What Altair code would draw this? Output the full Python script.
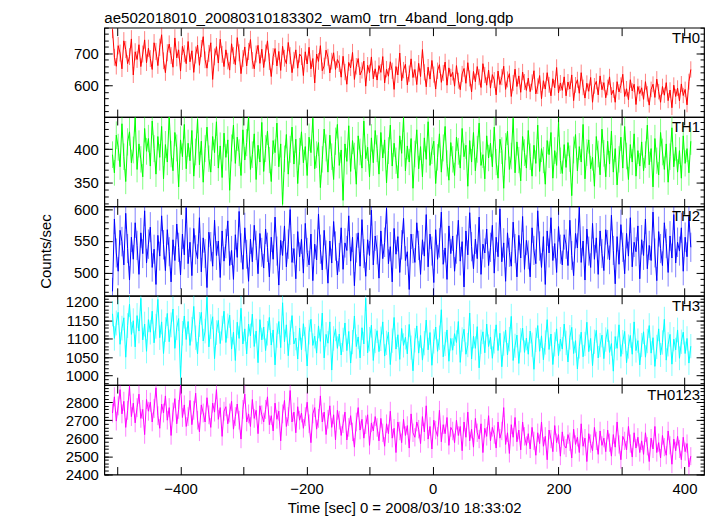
import altair as alt
import pandas as pd
import numpy as np

FONT = "Liberation Sans"

# time bins (sec, relative to 2008/03/10 18:33:02)
t_start = -508
t_step = 3

th0 = [775, 688, 660, 724, 701, 652, 739, 712, 668, 690, 745, 633, 705, 681, 727, 659, 698, 742, 671, 716,
       684, 650, 733, 706, 662, 719, 758, 677, 640, 702, 729, 693, 657, 748, 686, 711, 645, 722, 699, 668,
       737, 674, 708, 641, 695, 726, 663, 715, 752, 680, 654, 700, 733, 619, 689, 721, 670, 744, 697, 659,
       711, 676, 648, 730, 693, 665, 749, 702, 637, 684, 720, 661, 706, 743, 678, 652, 698, 725, 669, 713,
       656, 701, 739, 674, 628, 690, 715, 661, 706, 647, 722, 685, 668, 734, 693, 640, 679, 711, 654, 698,
       690, 631, 705, 667, 719, 652, 684, 608, 698, 675, 724, 646, 661, 710, 688, 639, 676, 702, 650, 681,
       668, 626, 691, 642, 604, 672, 655, 703, 619, 660, 684, 633, 647, 676, 598, 663, 640, 689, 621, 652,
       617, 662, 641, 690, 608, 651, 629, 674, 646, 588, 659, 633, 701, 615, 648, 666, 602, 637, 683, 625,
       650, 603, 669, 628, 712, 641, 596, 657, 620, 678, 634, 589, 646, 665, 610, 639, 673, 601, 655, 627,
       641, 598, 662, 615, 587, 636, 653, 607, 671, 622, 580, 644, 612, 659, 626, 594, 668, 633, 601, 648,
       592, 634, 617, 571, 645, 603, 626, 660, 588, 619, 637, 566, 608, 651, 597, 630, 579, 642, 611, 585,
       623, 581, 610, 646, 574, 598, 631, 559, 615, 589, 640, 602, 568, 621, 593, 656, 577, 608, 585, 627,
       568, 611, 589, 633, 553, 602, 618, 576, 640, 594, 561, 607, 582, 625, 548, 599, 613, 571, 630, 587,
       609, 562, 594, 627, 571, 586, 548, 612, 580, 601, 635, 566, 590, 556, 618, 583, 604, 541, 597, 575,
       593, 557, 612, 574, 539, 588, 604, 563, 620, 581, 548, 597, 570, 609, 553, 586, 531, 601, 566, 592,
       552, 605, 569, 588, 540, 612, 650]

th1 = [392, 365, 421, 403, 374, 438, 389, 352, 411, 426, 380, 399, 447, 370, 408, 385, 359, 431, 397, 416,
       375, 442, 401, 363, 419, 388, 434, 356, 407, 381, 450, 393, 368, 425, 402, 344, 414, 389, 437, 371,
       409, 383, 428, 360, 396, 445, 377, 412, 351, 401, 433, 386, 366, 419, 395, 441, 372, 405, 358, 424,
       388, 414, 339, 402, 436, 379, 418, 395, 361, 429, 384, 410, 449, 370, 392, 423, 355, 406, 381, 440,
       367, 401, 427, 384, 352, 413, 395, 439, 374, 408, 318, 386, 422, 363, 400, 433, 378, 415, 349, 397,
       426, 380, 404, 361, 418, 395, 446, 371, 392, 410, 343, 385, 430, 402, 366, 421, 389, 355, 412, 437,
       376, 399, 324, 408, 382, 435, 367, 413, 390, 348, 420, 396, 372, 442, 386, 403, 359, 417, 380, 428,
       401, 363, 425, 387, 414, 350, 398, 436, 375, 409, 383, 357, 420, 394, 447, 368, 405, 381, 416, 342,
       393, 429, 371, 404, 359, 417, 385, 441, 376, 398, 412, 349, 388, 423, 366, 402, 434, 379, 354, 410,
       385, 361, 418, 397, 372, 431, 389, 406, 345, 413, 381, 425, 368, 400, 439, 376, 392, 356, 420, 387,
       409, 374, 433, 381, 357, 415, 398, 342, 404, 427, 370, 390, 446, 365, 411, 384, 353, 419, 395, 372,
       428, 389, 360, 406, 379, 436, 367, 401, 384, 348, 413, 392, 425, 357, 398, 376, 440, 383, 364, 407,
       373, 410, 386, 331, 399, 422, 368, 404, 381, 437, 356, 395, 414, 371, 388, 345, 419, 393, 362, 430,
       394, 359, 412, 378, 427, 366, 401, 347, 385, 418, 372, 434, 390, 355, 407, 381, 423, 360, 398, 375,
       411, 368, 392, 436, 377, 401, 344, 416, 383, 362, 425, 396, 370, 408, 351, 389, 432, 374, 403, 366,
       398, 357, 420, 379, 401, 365, 412]

th2 = [470, 585, 531, 502, 567, 549, 512, 594, 538, 488, 556, 521, 579, 543, 497, 563, 530, 598, 515, 545,
       572, 508, 537, 481, 559, 526, 590, 544, 503, 568, 533, 485, 552, 519, 577, 540, 496, 561, 528, 603,
       514, 548, 495, 570, 536, 522, 587, 501, 555, 530, 476, 564, 541, 510, 583, 527, 550, 492, 566, 518,
       546, 582, 511, 535, 489, 560, 524, 597, 539, 505, 571, 529, 486, 553, 517, 575, 543, 498, 562, 532,
       507, 569, 540, 493, 556, 521, 588, 534, 480, 551, 527, 574, 509, 545, 600, 516, 538, 490, 565, 525,
       553, 499, 578, 532, 512, 561, 487, 545, 520, 593, 537, 504, 567, 528, 483, 550, 515, 581, 542, 496,
       524, 571, 505, 547, 535, 590, 518, 556, 479, 539, 563, 510, 584, 530, 494, 552, 527, 599, 512, 558,
       536, 491, 566, 522, 548, 602, 514, 541, 485, 570, 529, 557, 500, 544, 586, 519, 533, 473, 561, 538,
       516, 579, 543, 497, 552, 526, 592, 509, 561, 534, 484, 568, 521, 547, 596, 513, 539, 489, 574, 530,
       558, 502, 537, 583, 518, 549, 477, 566, 528, 595, 541, 506, 553, 522, 588, 497, 545, 531, 569, 511,
       540, 575, 499, 556, 525, 601, 517, 547, 486, 563, 532, 510, 580, 538, 493, 559, 523, 589, 505, 551,
       528, 493, 571, 535, 514, 598, 542, 508, 557, 481, 566, 531, 587, 519, 546, 500, 573, 537, 512, 560,
       545, 511, 583, 527, 495, 562, 539, 604, 516, 550, 488, 569, 534, 508, 578, 521, 555, 497, 566, 530,
       503, 568, 544, 520, 591, 535, 482, 557, 513, 576, 540, 498, 562, 526, 587, 509, 548, 533, 574, 490,
       552, 527, 585, 506, 543, 519, 596, 531, 487, 565, 538, 511, 579, 546, 500, 558, 523, 592, 515, 548,
       534, 571, 502, 556, 525, 589, 540]

th3 = [1168, 1101, 1143, 1172, 1085, 1129, 1157, 1050, 1136, 1194, 1112, 1149, 1078, 1163, 1121, 1210, 1097, 1140, 1066, 1152,
       1118, 1175, 1089, 1134, 1207, 1103, 1146, 1060, 1125, 1169, 1092, 1138, 1181, 1074, 1130, 1155, 995, 1115, 1162, 1098,
       1147, 1082, 1126, 1188, 1103, 1059, 1139, 1172, 1094, 1121, 1213, 1078, 1133, 1160, 1046, 1117, 1150, 1087, 1129, 1175,
       1090, 1135, 1164, 1072, 1118, 1041, 1145, 1101, 1183, 1086, 1127, 1059, 1140, 1108, 1167, 1079, 1121, 1035, 1152, 1097,
       1132, 1068, 1115, 1158, 1083, 1124, 1029, 1109, 1147, 1076, 1198, 1092, 1138, 1054, 1117, 1163, 1086, 1102, 1045, 1129,
       1070, 1141, 1099, 1026, 1118, 1153, 1082, 1107, 1061, 1135, 1093, 1170, 1048, 1112, 1088, 1146, 1015, 1101, 1127, 1074,
       1113, 1056, 1097, 1143, 1068, 1120, 1034, 1091, 1162, 1079, 1105, 1048, 1130, 1086, 1210, 1062, 1099, 1137, 1041, 1094,
       1122, 1065, 1100, 1146, 1053, 1089, 1118, 1030, 1095, 1158, 1072, 1111, 1044, 1128, 1082, 1104, 1059, 1139, 1076, 1013,
       1096, 1135, 1061, 1109, 1042, 1088, 1151, 1070, 1117, 1028, 1093, 1132, 1066, 1103, 1179, 1051, 1086, 1124, 1039, 1101,
       1069, 1114, 1090, 1147, 1036, 1098, 1126, 1058, 1083, 1170, 1045, 1107, 1074, 1133, 1021, 1092, 1119, 1062, 1140, 1079,
       1105, 1047, 1093, 1138, 1068, 1115, 1024, 1087, 1124, 1056, 1099, 1161, 1041, 1081, 1110, 1033, 1096, 1129, 1063, 1102,
       1058, 1121, 1084, 1017, 1097, 1136, 1066, 1108, 1043, 1090, 1152, 1071, 1113, 1030, 1085, 1127, 1054, 1099, 1072, 1140,
       1089, 1037, 1104, 1131, 1060, 1095, 1018, 1079, 1118, 1051, 1086, 1145, 1065, 1101, 1027, 1092, 1123, 1048, 1083, 1110,
       1046, 1098, 1125, 1063, 1087, 1012, 1106, 1074, 1138, 1052, 1091, 1120, 1035, 1079, 1109, 1058, 1146, 1068, 1095, 1029,
       1083, 1119, 1050, 1094, 1136, 1061, 1103, 1025, 1078, 1127, 1056, 1090, 1153, 1042, 1085, 1112, 1031, 1099, 1070, 1124,
       1047, 1092, 1118, 1060, 1101, 1034, 1080]

th0123 = [2740, 2830, 2695, 2780, 2870, 2735, 2805, 2660, 2755, 2890, 2720, 2795, 2685, 2770, 2845, 2710, 2760, 2620, 2815, 2750,
          2800, 2690, 2765, 2880, 2725, 2655, 2790, 2740, 2835, 2700, 2770, 2615, 2745, 2820, 2680, 2760, 2895, 2715, 2785, 2665,
          2720, 2810, 2675, 2755, 2850, 2700, 2635, 2785, 2740, 2690, 2825, 2730, 2660, 2795, 2745, 2870, 2705, 2770, 2610, 2750,
          2775, 2680, 2740, 2805, 2650, 2720, 2790, 2700, 2595, 2760, 2845, 2690, 2735, 2665, 2815, 2710, 2755, 2625, 2780, 2730,
          2690, 2760, 2830, 2675, 2725, 2640, 2795, 2705, 2750, 2585, 2735, 2810, 2665, 2720, 2865, 2690, 2745, 2630, 2775, 2700,
          2740, 2655, 2720, 2800, 2680, 2575, 2735, 2770, 2650, 2710, 2835, 2690, 2745, 2620, 2705, 2780, 2660, 2730, 2590, 2755,
          2700, 2615, 2680, 2745, 2590, 2660, 2725, 2635, 2550, 2690, 2770, 2645, 2705, 2600, 2675, 2730, 2560, 2685, 2640, 2720,
          2660, 2585, 2710, 2630, 2555, 2680, 2625, 2750, 2600, 2655, 2520, 2690, 2640, 2575, 2705, 2615, 2670, 2545, 2735, 2630,
          2605, 2690, 2650, 2570, 2720, 2635, 2780, 2595, 2665, 2540, 2700, 2645, 2610, 2755, 2580, 2675, 2625, 2715, 2560, 2660,
          2640, 2575, 2700, 2615, 2665, 2530, 2690, 2605, 2745, 2585, 2650, 2550, 2710, 2630, 2595, 2680, 2520, 2655, 2610, 2725,
          2585, 2660, 2620, 2545, 2690, 2600, 2640, 2770, 2565, 2630, 2515, 2675, 2605, 2715, 2580, 2645, 2535, 2690, 2610, 2560,
          2625, 2540, 2660, 2585, 2505, 2630, 2570, 2690, 2555, 2610, 2480, 2645, 2595, 2525, 2670, 2575, 2620, 2500, 2635, 2560,
          2545, 2620, 2580, 2490, 2650, 2565, 2605, 2520, 2680, 2555, 2600, 2470, 2625, 2570, 2530, 2660, 2585, 2510, 2640, 2560,
          2600, 2525, 2645, 2575, 2500, 2620, 2550, 2690, 2565, 2480, 2610, 2585, 2535, 2665, 2570, 2495, 2630, 2545, 2605, 2520,
          2585, 2510, 2630, 2555, 2470, 2600, 2540, 2665, 2520, 2575, 2490, 2615, 2550, 2505, 2640, 2560, 2455, 2595, 2530, 2610,
          2540, 2480, 2605, 2525, 2570, 2440, 2500]

series = [th0, th1, th2, th3, th0123]
names = ["TH0", "TH1", "TH2", "TH3", "TH0123"]
colors = ["#ff0000", "#00ff00", "#0000ff", "#00ffff", "#ff00ff"]
y_domains = [[502, 780], [315, 448], [463, 605], [974, 1217], [2398, 2895]]
y_labels = [[600, 700], [350, 400], [500, 550, 600],
            [1000, 1050, 1100, 1150, 1200], [2400, 2500, 2600, 2700, 2800]]
y_minor_step = [20, 10, 10, 10, 20]
x_domain = [-521, 431]
x_ticks = [-500, -400, -300, -200, -100, 0, 100, 200, 300, 400]
x_labels = [-400, -200, 0, 200, 400]

W, H = 604, 90


def tick_axis(orient, values, size):
    return alt.Axis(orient=orient, values=values, labels=False, domain=False,
                    grid=False, ticks=True, tickSize=size, offset=-size,
                    tickColor="black", tickWidth=1, title=None,
                    minExtent=0, maxExtent=0)


def panel(i):
    vals = series[i]
    t = [t_start + t_step * k for k in range(len(vals))]
    df = pd.DataFrame({"t": t, "v": vals})
    df["lo"] = df["v"] - np.sqrt(df["v"])
    df["hi"] = df["v"] + np.sqrt(df["v"])
    lo_d, hi_d = y_domains[i]
    step = y_minor_step[i]
    minor_vals = [v for v in range(int(np.ceil(lo_d / step)) * step, hi_d + 1, step)]
    major_vals = y_labels[i]
    col = colors[i]
    ysc = alt.Scale(domain=y_domains[i], nice=False, zero=False)
    xsc = alt.Scale(domain=x_domain, nice=False, zero=False)
    last = i == len(series) - 1

    if last:
        xlab_axis = alt.Axis(orient="bottom", values=x_labels, ticks=False, domain=False,
                             grid=False, labelFontSize=15, labelPadding=7, format="d",
                             labelFlush=False,
                             title="Time [sec] 0 = 2008/03/10 18:33:02",
                             titleFontSize=15, titleFontWeight="normal", titlePadding=4)
    else:
        xlab_axis = None
    ylab_kw = dict(orient="left", values=major_vals, ticks=False, domain=False,
                   grid=False, labelFontSize=15, labelPadding=6, format="d")
    if i == 2:
        ylab_axis = alt.Axis(title="Counts/sec", titleFontSize=15,
                             titleFontWeight="normal", titlePadding=20, **ylab_kw)
    else:
        ylab_axis = alt.Axis(title=None, **ylab_kw)

    base = alt.Chart(df)
    err = base.mark_rule(clip=True, color=col, opacity=0.5, strokeWidth=1).encode(
        x=alt.X("t:Q", scale=xsc, axis=xlab_axis),
        y=alt.Y("lo:Q", scale=ysc, axis=ylab_axis),
        y2="hi:Q")
    line = base.mark_line(clip=True, color=col, strokeWidth=1).encode(
        x=alt.X("t:Q", scale=xsc, axis=tick_axis("bottom", x_ticks, 8)),
        y=alt.Y("v:Q", scale=ysc, axis=tick_axis("left", major_vals, 8)))
    g1 = base.mark_line(strokeOpacity=0).encode(
        x=alt.X("t:Q", scale=xsc, axis=tick_axis("top", x_ticks, 8)),
        y=alt.Y("v:Q", scale=ysc, axis=tick_axis("right", major_vals, 8)))
    g2 = base.mark_line(strokeOpacity=0).encode(
        x=alt.X("t:Q", scale=xsc, axis=None),
        y=alt.Y("v:Q", scale=ysc, axis=tick_axis("left", minor_vals, 4)))
    g3 = base.mark_line(strokeOpacity=0).encode(
        x=alt.X("t:Q", scale=xsc, axis=None),
        y=alt.Y("v:Q", scale=ysc, axis=tick_axis("right", minor_vals, 4)))
    label = alt.Chart(pd.DataFrame({"name": [names[i]]})).mark_text(
        align="right", baseline="top", fontSize=15, font=FONT, color="black").encode(
        x=alt.value(W - 4), y=alt.value(3), text="name:N")

    ch = alt.layer(err, line, g1, g2, g3, label).resolve_axis(
        x="independent", y="independent").properties(width=W, height=H)
    if i == 0:
        ch = ch.properties(title=alt.TitleParams(
            text="ae502018010_20080310183302_wam0_trn_4band_long.qdp",
            anchor="start", frame="group", offset=1, fontSize=15.2,
            fontWeight="normal", font=FONT, color="black"))
    return ch


chart = alt.vconcat(*[panel(i) for i in range(len(series))], spacing=0,
                    bounds="flush").properties(
    padding={"left": 30, "top": 0, "right": 3, "bottom": 0}
).configure_view(stroke="black", strokeWidth=1.2).configure_axis(
    labelFont=FONT, titleFont=FONT, labelColor="black", titleColor="black"
).configure_title(font=FONT)

chart.save("out.html", embed_options={"renderer": "svg", "actions": False})
